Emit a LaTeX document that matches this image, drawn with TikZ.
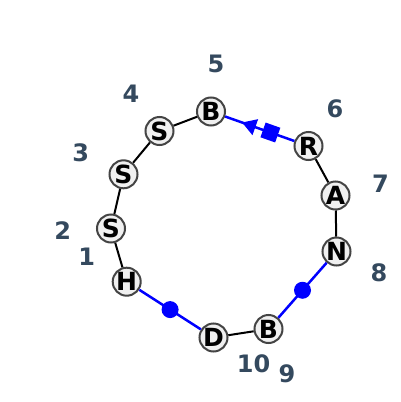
\documentclass[tikz,border=0pt]{standalone}
\usepackage{fontspec}
\setmainfont{DejaVu Sans}
\usetikzlibrary{decorations.markings}
\definecolor{lblcol}{HTML}{34495E}
\definecolor{nodefill}{HTML}{F0F0F0}
\definecolor{nodedraw}{HTML}{444444}
\tikzset{
  res/.style={circle, draw=nodedraw, fill=nodefill, line width=2pt, minimum size=28pt, inner sep=0pt, font=\fontsize{25}{27}\selectfont\bfseries},
  num/.style={text=lblcol, font=\fontsize{24}{26}\selectfont\bfseries, inner sep=0pt},
  bond/.style={black, line width=2pt},
  link/.style={blue, line width=2.5pt},
  dot/.style={circle, fill=blue, inner sep=0pt, minimum size=17pt},
}
\begin{document}
\begin{tikzpicture}[x=1pt,y=-1pt]
\useasboundingbox (0,0) rectangle (400,402);
% residues
\node[res] (h1)  at (126.7,281.7) {H};
\node[res] (s2)  at (111,228.5) {S};
\node[res] (s3)  at (123.5,174.3) {S};
\node[res] (s4)  at (159.5,131) {S};
\node[res] (b5)  at (211,111.5) {B};
\node[res] (r6)  at (308.5,146) {R};
\node[res] (a7)  at (335.5,195.5) {A};
\node[res] (n8)  at (336.5,251.5) {N};
\node[res] (b9)  at (268.5,329) {B};
\node[res] (d10) at (213.5,337.5) {D};
% numbers
\node[num] (l1)  at (86.7,256.5) {1};
\node[num] (l2)  at (62.7,231) {2};
\node[num] (l3)  at (80.7,153) {3};
\node[num] (l4)  at (131,93.3) {4};
\node[num] (l5)  at (216,63.5) {5};
\node[num] (l6)  at (335,108.3) {6};
\node[num] (l7)  at (380.5,184) {7};
\node[num] (l8)  at (379,272.7) {8};
\node[num] (l9)  at (287,373.5) {9};
\node[num] (l10) at (253.5,363.5) {10};
% bonds
\draw[bond] (h1) -- (s2);
\draw[bond] (s2) -- (s3);
\draw[bond] (s3) -- (s4);
\draw[bond] (s4) -- (b5);
\draw[bond] (r6) -- (a7);
\draw[bond] (a7) -- (n8);
\draw[bond] (b9) -- (d10);
% links
\draw[link] (h1) -- node[dot] (m1) {} (d10);
\draw[link] (b9) -- node[dot] (m2) {} (n8);
\draw[link, decoration={markings,
    mark=at position 48pt with {\fill[blue] (-7.8,-7.8) rectangle (7.8,7.8);},
    mark=at position 25pt with {\fill[blue] (-7,0) -- (7,8.5) -- (7,-8.5) -- cycle;}},
  postaction=decorate] (b5) -- (r6);
\end{tikzpicture}
\end{document}
